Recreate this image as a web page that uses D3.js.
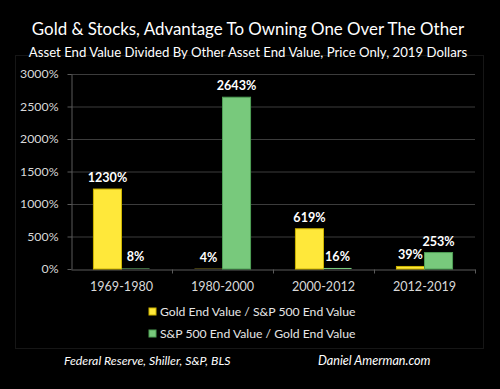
<!DOCTYPE html>
<html>
<head>
<meta charset="utf-8">
<script src="https://cdn.jsdelivr.net/npm/d3@7"></script>
<style>
  html, body { margin: 0; padding: 0; background: #000; }
  svg { display: block; }
</style>
</head>
<body>
<div id="app"></div>
<script>
const periods = ["1969-1980", "1980-2000", "2000-2012", "2012-2019"];
const goldOverStocks = [1230, 4, 619, 39];
const stocksOverGold = [8, 2643, 16, 253];
const seriesNames = ["Gold End Value / S&P 500 End Value", "S&P 500 End Value / Gold End Value"];
const yTicks = [0, 500, 1000, 1500, 2000, 2500, 3000];

const width = 500, height = 389;
const font = "Lato, 'Open Sans', sans-serif";

const svg = d3.select("#app").append("svg")
    .attr("width", width)
    .attr("height", height)
    .style("background", "#000");

// faint chart frame
svg.append("rect")
    .attr("x", 15.5).attr("y", 55.5)
    .attr("width", 468).attr("height", 293)
    .attr("fill", "none")
    .attr("stroke", "#161616");

// titles
svg.append("text")
    .attr("x", 248).attr("y", 35)
    .attr("text-anchor", "middle")
    .attr("fill", "#fff")
    .attr("font-family", font)
    .attr("font-size", 16.9)
    .text("Gold & Stocks, Advantage To Owning One Over The Other");

svg.append("text")
    .attr("x", 248).attr("y", 57)
    .attr("text-anchor", "middle")
    .attr("fill", "#fff")
    .attr("font-family", font)
    .attr("font-size", 13.2)
    .text("Asset End Value Divided By Other Asset End Value, Price Only, 2019 Dollars");

const margin = { left: 71, right: 475, top: 74, bottom: 269 };

const x = d3.scaleBand()
    .domain(periods)
    .range([margin.left, margin.right]);

const inner = d3.scaleBand()
    .domain([0, 1])
    .range([0, x.bandwidth()])
    .paddingOuter(0.8)
    .paddingInner(0);

const y = d3.scaleLinear()
    .domain([0, 3000])
    .range([margin.bottom, margin.top]);

// gridlines
svg.append("g")
    .selectAll("line")
    .data(yTicks.filter(d => d > 0))
    .join("line")
    .attr("x1", margin.left).attr("x2", margin.right)
    .attr("y1", d => y(d) + 0.5).attr("y2", d => y(d) + 0.5)
    .attr("stroke", "#3c3c3c")
    .attr("stroke-width", 1);

// y axis
const yAxis = svg.append("g")
    .attr("transform", `translate(${margin.left + 0.5},0)`)
    .call(d3.axisLeft(y).tickValues(yTicks).tickFormat(d => d + "%").tickSize(4).tickSizeOuter(0));
yAxis.select(".domain").attr("stroke", "#5a5a5a");
yAxis.selectAll(".tick line").attr("stroke", "#5a5a5a");
yAxis.selectAll(".tick text")
    .attr("fill", "#d9d9d9")
    .attr("font-family", font)
    .attr("font-size", 12.3)
    .attr("x", -13);

// x axis
const xAxis = svg.append("g")
    .attr("transform", `translate(0,${margin.bottom + 0.5})`)
    .call(d3.axisBottom(x).tickSize(0).tickSizeOuter(0));
xAxis.select(".domain").attr("stroke", "#5a5a5a");
xAxis.selectAll(".tick text")
    .attr("fill", "#d9d9d9")
    .attr("font-family", font)
    .attr("font-size", 12.6)
    .attr("dy", 0)
    .attr("y", 21);
// category separators
xAxis.append("g")
    .selectAll("line")
    .data(periods)
    .join("line")
    .attr("x1", d => x(d) + x.bandwidth() + 0.5)
    .attr("x2", d => x(d) + x.bandwidth() + 0.5)
    .attr("y1", 0).attr("y2", 4)
    .attr("stroke", "#5a5a5a");

const rows = [];
periods.forEach((p, i) => {
    rows.push({ period: p, s: 0, v: goldOverStocks[i] });
    rows.push({ period: p, s: 1, v: stocksOverGold[i] });
});

const fills = ["#ffe83a", "#78c97c"];
const strokes = ["#cdb400", "#4f9f55"];

svg.append("g")
    .selectAll("rect")
    .data(rows)
    .join("rect")
    .attr("x", d => x(d.period) + inner(d.s))
    .attr("y", d => y(d.v))
    .attr("width", inner.bandwidth())
    .attr("height", d => y(0) - y(d.v))
    .attr("fill", d => fills[d.s])
    .attr("stroke", d => strokes[d.s])
    .attr("stroke-width", d => (y(0) - y(d.v)) < 1.5 ? 0 : 1);

svg.append("g")
    .selectAll("text")
    .data(rows)
    .join("text")
    .attr("x", d => x(d.period) + inner(d.s) + inner.bandwidth() / 2)
    .attr("y", d => y(d.v) - 7)
    .attr("text-anchor", "middle")
    .attr("fill", "#fff")
    .attr("font-family", font)
    .attr("font-weight", "bold")
    .attr("font-size", 12.6)
    .text(d => d.v + "%");

// legend
const legend = svg.append("g")
    .selectAll("g")
    .data(seriesNames)
    .join("g")
    .attr("transform", (d, i) => `translate(149,${311 + i * 22})`);
legend.append("rect")
    .attr("x", 0).attr("y", -3)
    .attr("width", 7).attr("height", 7)
    .attr("fill", (d, i) => fills[i])
    .attr("stroke", (d, i) => strokes[i]);
legend.append("text")
    .attr("x", 11).attr("y", 5)
    .attr("fill", "#e6e6e6")
    .attr("font-family", font)
    .attr("font-size", 12.2)
    .text(d => d);

// footer
svg.append("text")
    .attr("x", 64).attr("y", 365)
    .attr("fill", "#fff")
    .attr("font-family", font)
    .attr("font-style", "italic")
    .attr("font-size", 12.3)
    .text("Federal Reserve, Shiller, S&P, BLS");
svg.append("text")
    .attr("x", 318).attr("y", 365)
    .attr("fill", "#fff")
    .attr("font-family", font)
    .attr("font-style", "italic")
    .attr("font-size", 12.6)
    .text("Daniel Amerman.com");
</script>
</body>
</html>
